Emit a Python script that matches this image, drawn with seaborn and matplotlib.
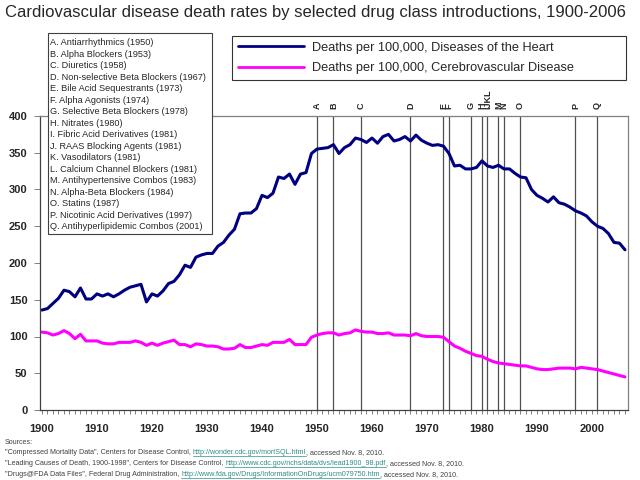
import numpy as np
import pandas as pd
import matplotlib
matplotlib.use('Agg')
import matplotlib.pyplot as plt
from matplotlib.patches import Rectangle
from matplotlib.lines import Line2D
from matplotlib.ticker import MultipleLocator
import seaborn as sns

# Death rates per 100,000, 1900-2006

years = list(range(1900, 2007))

heart = [136, 138, 145, 152, 163, 161, 154, 166, 151, 151,
         158, 155, 158, 154, 158, 163, 167, 169, 171, 147,
         158, 155, 162, 172, 175, 184, 197, 194, 208, 211,
         213, 213, 223, 228, 238, 246, 267, 268, 268, 274,
         292, 289, 295, 317, 315, 321, 307, 321, 323, 349,
         355, 356, 357, 361, 349, 357, 361, 370, 368, 364,
         370, 363, 372, 375, 366, 368, 372, 366, 374, 367,
         363, 360, 361, 359, 349, 332, 333, 328, 328, 330,
         339, 332, 330, 333, 328, 328, 322, 317, 316, 300,
         292, 288, 283, 290, 282, 280, 276, 271, 268, 264,
         256, 250, 247, 240, 228, 227, 218]

stroke = [106, 105, 102, 104, 108, 104, 97, 103, 94, 94,
          94, 91, 90, 90, 92, 92, 92, 94, 92, 88,
          91, 88, 91, 93, 95, 89, 89, 86, 90, 89,
          87, 87, 86, 83, 83, 84, 89, 85, 85, 87,
          89, 88, 92, 92, 92, 96, 89, 89, 89, 99,
          102, 104, 105, 105, 102, 104, 105, 109, 107, 106,
          106, 104, 104, 105, 102, 102, 102, 101, 104, 101,
          100, 100, 100, 99, 93, 87, 84, 80, 77, 74,
          73, 69, 66, 64, 63, 62, 61, 60, 60, 58,
          56, 55, 55, 56, 57, 57, 57, 56, 58, 57,
          56, 55, 53, 51, 49, 47, 45]

# drug class introductions
drug_letters = list('ABCDEFGHIJKLMNOPQ')
drug_classes = ['Antiarrhythmics', 'Alpha Blockers', 'Diuretics',
                'Non-selective Beta Blockers', 'Bile Acid Sequestrants',
                'Alpha Agonists', 'Selective Beta Blockers', 'Nitrates',
                'Fibric Acid Derivatives', 'RAAS Blocking Agents', 'Vasodilators',
                'Calcium Channel Blockers', 'Antihypertensive Combos',
                'Alpha-Beta Blockers', 'Statins', 'Nicotinic Acid Derivatives',
                'Antihyperlipidemic Combos']
drug_years = [1950, 1953, 1958, 1967, 1973, 1974, 1978, 1980, 1981, 1981,
              1981, 1981, 1983, 1984, 1987, 1997, 2001]

df = pd.DataFrame({'year': years, 'heart': heart, 'stroke': stroke})

sns.set_style('white')
plt.rcParams['font.family'] = ['Liberation Sans', 'DejaVu Sans']

fig = plt.figure(figsize=(6.4, 4.8), dpi=100)
ax = fig.add_axes([40/640, 1 - 410/480, 588/640, 294/480])

sns.lineplot(data=df, x='year', y='heart', color='#000080', lw=2.2, ax=ax,
             label='Deaths per 100,000, Diseases of the Heart', legend=False)
sns.lineplot(data=df, x='year', y='stroke', color='#FF00FF', lw=2.2, ax=ax,
             label='Deaths per 100,000, Cerebrovascular Disease', legend=False)

# vertical markers for each drug class, letters on top
for yr in sorted(set(drug_years)):
    ax.axvline(yr, color='#505050', lw=0.9, zorder=1)
    letters = ''.join(l for l, y in zip(drug_letters, drug_years) if y == yr)
    ax.text(yr, 410, letters, rotation=90, ha='center', va='bottom',
            fontsize=6.5, fontweight='bold', clip_on=False)

ax.set_xlim(1899.64, 1899.64 + 588/5.5)
ax.set_ylim(0, 400)
ax.set_xlabel('')
ax.set_ylabel('')
ax.xaxis.set_major_locator(MultipleLocator(10))
ax.xaxis.set_minor_locator(MultipleLocator(1))
ax.yaxis.set_major_locator(MultipleLocator(50))
ax.tick_params(axis='x', which='both', bottom=True, length=3, width=0.7,
               color='#808080', pad=7, labelsize=8)
ax.tick_params(axis='y', left=True, length=4, width=0.7, color='#808080',
               pad=5, labelsize=8)
for lab in ax.get_xticklabels() + ax.get_yticklabels():
    lab.set_fontweight('bold')
for s in ax.spines.values():
    s.set_color('#808080')
    s.set_linewidth(0.9)
ax.spines['left'].set_color('#404040')
ax.spines['bottom'].set_color('#404040')

fig.text(5/640, 1 - 12/480, 'Cardiovascular disease death rates by selected drug class introductions, 1900-2006',
         fontsize=12, va='center', ha='left')

# series legend
handles, labels = ax.get_legend_handles_labels()
leg = fig.legend(handles, labels, loc='upper left',
                 bbox_to_anchor=(232/640, 1 - 82/480, 394/640, 46/480),
                 mode='expand', fontsize=9.2, handlelength=5.2, handletextpad=0.6,
                 labelspacing=0.65, borderaxespad=0, borderpad=0.45,
                 frameon=True, fancybox=False, edgecolor='black')
leg.get_frame().set_linewidth(0.8)
for ln in leg.get_lines():
    ln.set_linewidth(2)

# drug list box
fig.patches.append(Rectangle((48/640, 1 - 234/480), 164/640, 201/480,
                             transform=fig.transFigure, facecolor='white',
                             edgecolor='#404040', lw=0.8, zorder=1))
for i, (l, c, y) in enumerate(zip(drug_letters, drug_classes, drug_years)):
    fig.text(50/640, 1 - (42.7 + i*11.5)/480, f'{l}. {c} ({y})',
             fontsize=6.6, va='center', ha='left', zorder=3)

# sources with links
sources = [
    [('Sources:', False)],
    [('"Compressed Mortality Data", Centers for Disease Control, ', False),
     ('http://wonder.cdc.gov/mortSQL.html', True),
     (', accessed Nov. 8, 2010.', False)],
    [('"Leading Causes of Death, 1900-1998", Centers for Disease Control, ', False),
     ('http://www.cdc.gov/nchs/data/dvs/lead1900_98.pdf', True),
     (', accessed Nov. 8, 2010.', False)],
    [('"Drugs@FDA Data Files", Federal Drug Administration, ', False),
     ('http://www.fda.gov/Drugs/InformationOnDrugs/ucm079750.htm', True),
     (', accessed Nov. 8, 2010.', False)],
]
renderer = fig.canvas.get_renderer()
for i, parts in enumerate(sources):
    x = 5
    ypos = 1 - (442 + i*10.8)/480
    for s, link in parts:
        t = fig.text(x/640, ypos, s, fontsize=5.1, va='center', ha='left',
                     color='#2E8B8B' if link else '#404040')
        bb = t.get_window_extent(renderer)
        if link:
            fig.add_artist(Line2D([bb.x0/640, bb.x1/640], [bb.y0/480, bb.y0/480],
                                  transform=fig.transFigure, color='#2E8B8B', lw=0.5))
        x = bb.x1

plt.savefig('out.png', dpi=100)
